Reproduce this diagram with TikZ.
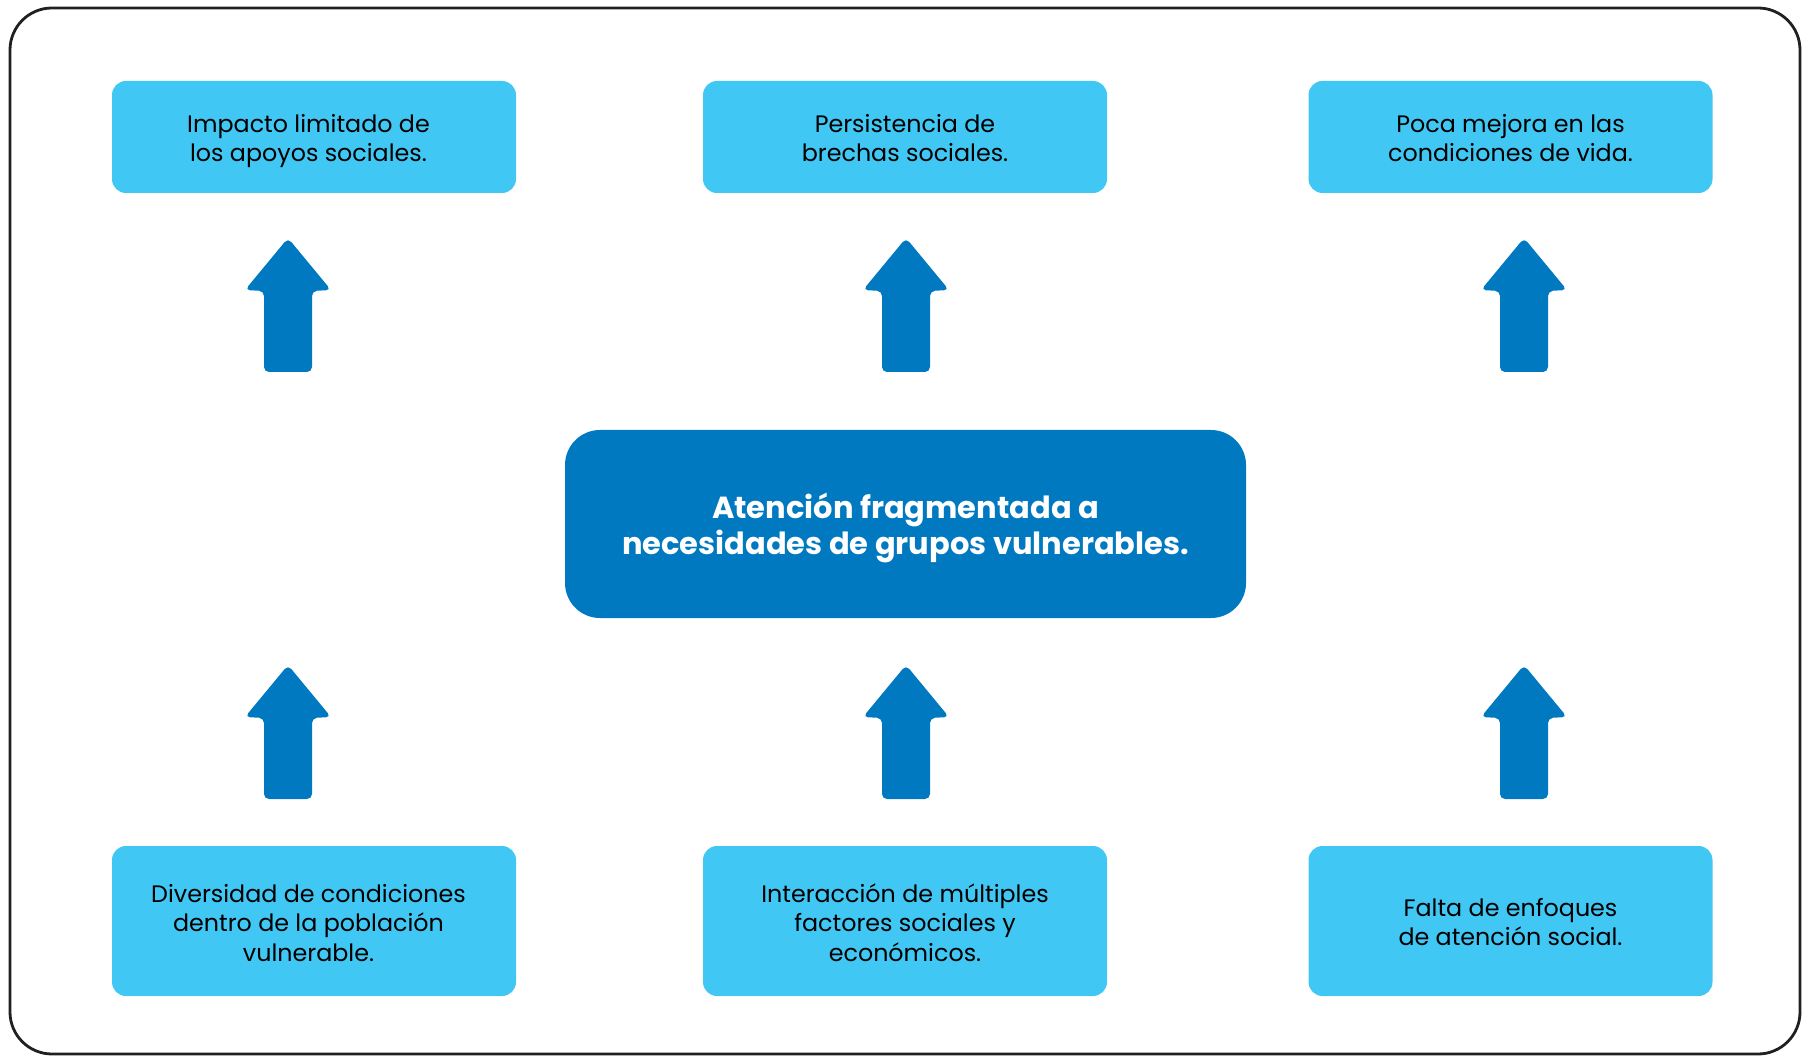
\documentclass[tikz,border=0pt]{standalone}
\usepackage{fontspec}
\setmainfont{Poppins}
\definecolor{lightblue}{HTML}{41C7F4}
\definecolor{darkblue}{HTML}{0079C1}
\definecolor{frame}{HTML}{231F20}
\newcommand{\topstrut}[1]{\rule{0pt}{#1}}
\newcommand{\botstrut}[1]{\rule[-#1]{0pt}{#1}}
\tikzset{
  smallbox/.style={rectangle, rounded corners=14pt, fill=lightblue, minimum width=404pt,
    align=center, inner sep=0pt, font=\fontsize{23.8}{29.5}\selectfont, text=black},
  topbox/.style={smallbox, minimum height=112pt},
  botbox/.style={smallbox, minimum height=150pt},
  mainbox/.style={rectangle, rounded corners=35pt, fill=darkblue, minimum width=681pt,
    minimum height=188pt, align=center, inner sep=0pt, text=white,
    font=\fontsize{30.5}{36}\selectfont\bfseries},
  blockarrow/.style={fill=darkblue, rounded corners=5pt}
}
\newcommand{\uparrowshape}[2]{%
  \path[blockarrow] (#1,#2) -- (#1+43,#2+52) -- (#1+24,#2+53) -- (#1+24,#2+134)
    -- (#1-24,#2+134) -- (#1-24,#2+53) -- (#1-43,#2+52) -- cycle;}
\begin{document}
\begin{tikzpicture}[x=1pt,y=-1pt]
\useasboundingbox (0,0) rectangle (1805,1056);
\draw[frame, line width=2.8pt, rounded corners=42pt] (10,8) rectangle (1800,1054);

\node[topbox] (t1) at (314,137) {\topstrut{26pt}\hspace*{-11pt}Impacto limitado de\\\hspace*{-11pt}los apoyos sociales.\botstrut{6pt}};
\node[topbox] (t2) at (905,137) {\topstrut{26pt}Persistencia de\\brechas sociales.\botstrut{6pt}};
\node[topbox] (t3) at (1510.5,137) {\topstrut{26pt}Poca mejora en las\\condiciones de vida.\botstrut{6pt}};

\node[mainbox] (c) at (905.5,524) {\topstrut{33pt}Atención fragmentada a\\necesidades de grupos vulnerables.};

\node[botbox] (b1) at (314,921) {\topstrut{22pt}\hspace*{-11pt}Diversidad de condiciones\\\hspace*{-11pt}dentro de la población\\\hspace*{-11pt}vulnerable.};
\node[botbox] (b2) at (905,921) {\topstrut{22pt}Interacción de múltiples\\factores sociales y\\económicos.};
\node[botbox] (b3) at (1510.5,921) {\topstrut{20pt}Falta de enfoques\\de atención social.};

\uparrowshape{288}{238}
\uparrowshape{906}{238}
\uparrowshape{1524}{238}
\uparrowshape{288}{665}
\uparrowshape{906}{665}
\uparrowshape{1524}{665}
\end{tikzpicture}
\end{document}
